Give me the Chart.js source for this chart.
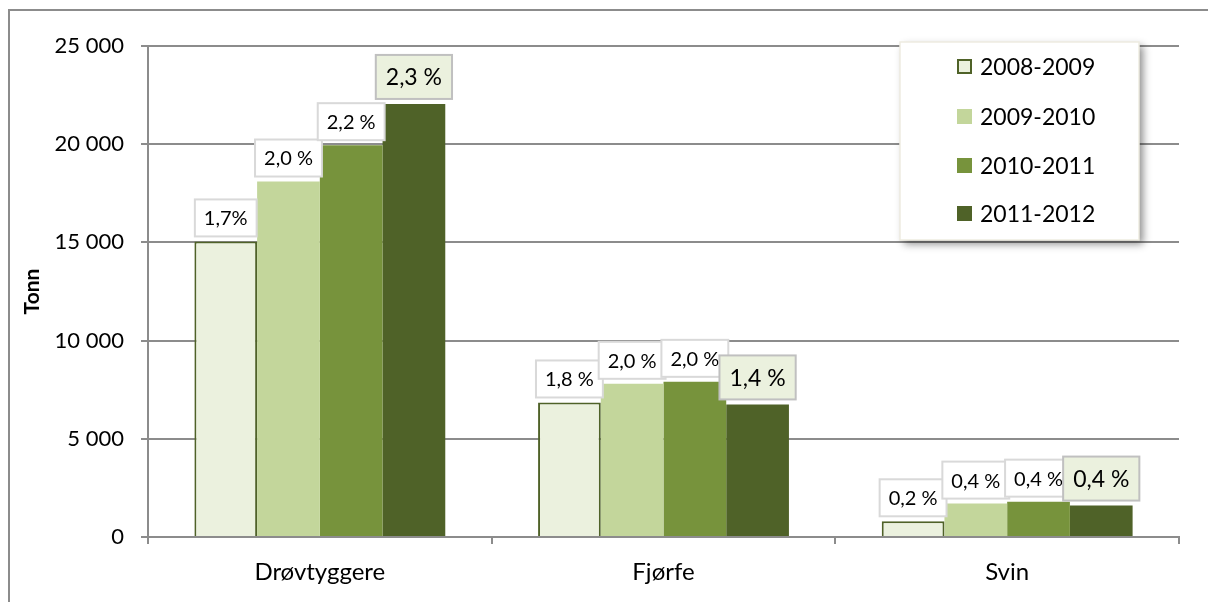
<!DOCTYPE html>
<html>
<head>
<meta charset="utf-8">
<script src="https://cdn.jsdelivr.net/npm/chart.js@4/dist/chart.umd.min.js"></script>
<style>
  html, body { margin: 0; padding: 0; background: #fff; }
  canvas { display: block; }
</style>
</head>
<body>
<canvas id="grafico" width="1208" height="602"></canvas>
<script>
// kategorier og serier
const kategorier = ['Drøvtyggere', 'Fjørfe', 'Svin'];
const serier = ['2008-2009', '2009-2010', '2010-2011', '2011-2012'];

const tonn2008 = [15050, 6850, 800];
const tonn2009 = [18100, 7800, 1700];
const tonn2010 = [19950, 7900, 1800];
const tonn2011 = [22050, 6750, 1600];

const andel2008 = ['1,7%', '1,8 %', '0,2 %'];
const andel2009 = ['2,0 %', '2,0 %', '0,4 %'];
const andel2010 = ['2,2 %', '2,0 %', '0,4 %'];
const andel2011 = ['2,3 %', '1,4 %', '0,4 %'];

const yTicks = [0, 5000, 10000, 15000, 20000, 25000];

const farger = ['#EBF1DE', '#C3D69B', '#77933C', '#4F6228'];
const FONT = 'Lato, "Open Sans", sans-serif';

const verdier = [tonn2008, tonn2009, tonn2010, tonn2011];
const andeler = [andel2008, andel2009, andel2010, andel2011];

// bokser med prosent over stolpene
const etiketter = {
  id: 'etiketter',
  afterDatasetsDraw(chart) {
    const ctx = chart.ctx;
    chart.data.datasets.forEach((ds, i) => {
      const meta = chart.getDatasetMeta(i);
      const siste = i === chart.data.datasets.length - 1;
      const fs = siste ? 23 : 20;
      const h = siste ? 44 : 37;
      meta.data.forEach((bar, j) => {
        const txt = andeler[i][j];
        ctx.save();
        ctx.font = fs + 'px ' + FONT;
        const w = ctx.measureText(txt).width + (siste ? 20 : 18);
        const x = bar.x - w / 2;
        const y = bar.y - 5 - h;
        ctx.fillStyle = siste ? '#EBF1DE' : '#ffffff';
        ctx.fillRect(x, y, w, h);
        ctx.lineWidth = 2;
        ctx.strokeStyle = siste ? '#C0C0C0' : '#D9D9D9';
        ctx.strokeRect(x, y, w, h);
        ctx.fillStyle = '#000';
        ctx.textAlign = 'center';
        ctx.textBaseline = 'middle';
        ctx.fillText(txt, bar.x, y + h / 2 + 1);
        ctx.restore();
      });
    });
  }
};

// egen forklaring inne i plottet, og ytre ramme
const forklaring = {
  id: 'forklaring',
  afterDraw(chart) {
    const ctx = chart.ctx;
    ctx.save();
    ctx.shadowColor = 'rgba(0,0,0,0.45)';
    ctx.shadowBlur = 8;
    ctx.shadowOffsetX = 4;
    ctx.shadowOffsetY = 4;
    ctx.fillStyle = '#fff';
    ctx.fillRect(900, 42, 239, 198);
    ctx.restore();
    ctx.save();
    ctx.strokeStyle = '#EEECE1';
    ctx.lineWidth = 1.5;
    ctx.strokeRect(900, 42, 239, 198);
    ctx.font = '23px ' + FONT;
    ctx.textBaseline = 'middle';
    const rader = [67, 117, 166, 214];
    chart.data.datasets.forEach((ds, i) => {
      const y = rader[i];
      ctx.fillStyle = ds.backgroundColor;
      ctx.fillRect(957, y - 8, 15, 15);
      if (i === 0) {
        ctx.strokeStyle = '#4F6228';
        ctx.lineWidth = 2;
        ctx.strokeRect(958, y - 7, 13, 13);
      }
      ctx.fillStyle = '#000';
      ctx.fillText(ds.label, 980, y + 1);
    });
    // ramme rundt hele figuren
    ctx.strokeStyle = '#8C8C8C';
    ctx.lineWidth = 2;
    ctx.beginPath();
    ctx.moveTo(9, 602);
    ctx.lineTo(9, 10);
    ctx.lineTo(1208, 10);
    ctx.stroke();
    ctx.restore();
  }
};

const ctx2 = document.getElementById('grafico').getContext('2d');

new Chart(ctx2, {
  type: 'bar',
  data: {
    labels: kategorier,
    datasets: serier.map((navn, i) => ({
      label: navn,
      data: verdier[i],
      backgroundColor: farger[i],
      borderColor: i === 0 ? '#4F6228' : farger[i],
      borderWidth: i === 0 ? 2 : 0,
      categoryPercentage: 0.73,
      barPercentage: 1
    }))
  },
  options: {
    responsive: false,
    animation: false,
    devicePixelRatio: 1,
    layout: { padding: { left: 0, right: 29, top: 46, bottom: 0 } },
    plugins: {
      legend: { display: false },
      tooltip: { enabled: false }
    },
    scales: {
      x: {
        grid: { display: true, drawOnChartArea: false, color: '#8C8C8C', lineWidth: 2, tickLength: 7, offset: true },
        border: { color: '#8C8C8C', width: 2 },
        ticks: { color: '#000', font: { family: FONT, size: 24 }, padding: 14 },
        afterFit(scale) { scale.height = 65; }
      },
      y: {
        min: 0,
        max: 25000,
        afterBuildTicks(scale) { scale.ticks = yTicks.map(v => ({ value: v })); },
        grid: { color: '#8C8C8C', lineWidth: 2, tickLength: 7 },
        border: { color: '#8C8C8C', width: 2 },
        ticks: {
          color: '#000',
          font: { family: FONT, size: 22 },
          padding: 17,
          callback: v => String(v).replace(/\B(?=(\d{3})+(?!\d))/g, ' ')
        },
        title: {
          display: true,
          text: 'Tonn',
          color: '#000',
          font: { family: FONT, size: 21, weight: 'bold' },
          padding: { top: 20, bottom: 0 }
        },
        afterFit(scale) { scale.width = 148; }
      }
    }
  },
  plugins: [etiketter, forklaring]
});
</script>
</body>
</html>
